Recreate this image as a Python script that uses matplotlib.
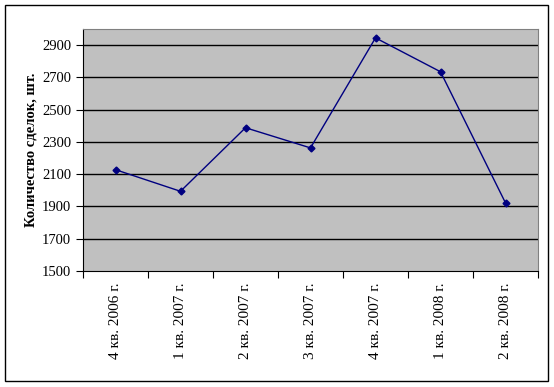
import matplotlib
matplotlib.use('Agg')
import matplotlib.pyplot as plt
from matplotlib.patches import Rectangle

# данные
quarters = ['4 кв. 2006 г.', '1 кв. 2007 г.', '2 кв. 2007 г.', '3 кв. 2007 г.',
            '4 кв. 2007 г.', '1 кв. 2008 г.', '2 кв. 2008 г.']
deals = [2128, 1994, 2388, 2263, 2945, 2735, 1922]
yticks = [1500, 1700, 1900, 2100, 2300, 2500, 2700, 2900]

plt.rcParams['font.family'] = ['Liberation Serif', 'DejaVu Serif']

fig = plt.figure(figsize=(5.54, 3.87), dpi=100)
# внешняя рамка
fig.patches.append(Rectangle((5 / 554, 6 / 387), 543 / 554, 376 / 387, transform=fig.transFigure,
                             fill=False, edgecolor='black', linewidth=1))

ax = fig.add_axes([83 / 554, 1 - 271 / 387, 455 / 554, 242 / 387])
ax.set_facecolor('#C0C0C0')
x = list(range(len(quarters)))
ax.plot(x, deals, color='#000080', linewidth=1, marker='D', markersize=3.5)

ax.set_xlim(-0.5, len(quarters) - 0.5)
ax.set_ylim(1500, 3000)
ax.set_yticks(yticks)
ax.set_yticklabels([str(v) for v in yticks], fontsize=10.5)
for v in yticks[1:]:
    ax.axhline(v, color='black', linewidth=1, zorder=1)

ax.set_xticks([i - 0.5 for i in range(len(quarters) + 1)])
ax.set_xticklabels([])
ax.set_xticks(x, minor=True)
ax.set_xticklabels(quarters, minor=True, rotation=90, fontsize=11)
ax.tick_params(axis='x', which='minor', length=0, pad=8)
ax.tick_params(axis='x', which='major', length=5, direction='out')
ax.tick_params(axis='y', length=5, direction='out')

ax.spines['top'].set_color('#808080')
ax.spines['right'].set_color('#808080')
ax.set_ylabel('Количество сделок, шт.', fontsize=10.5, fontweight='bold')
ax.yaxis.set_label_coords(-0.10, 0.5)

fig.savefig('out.png', dpi=100)
